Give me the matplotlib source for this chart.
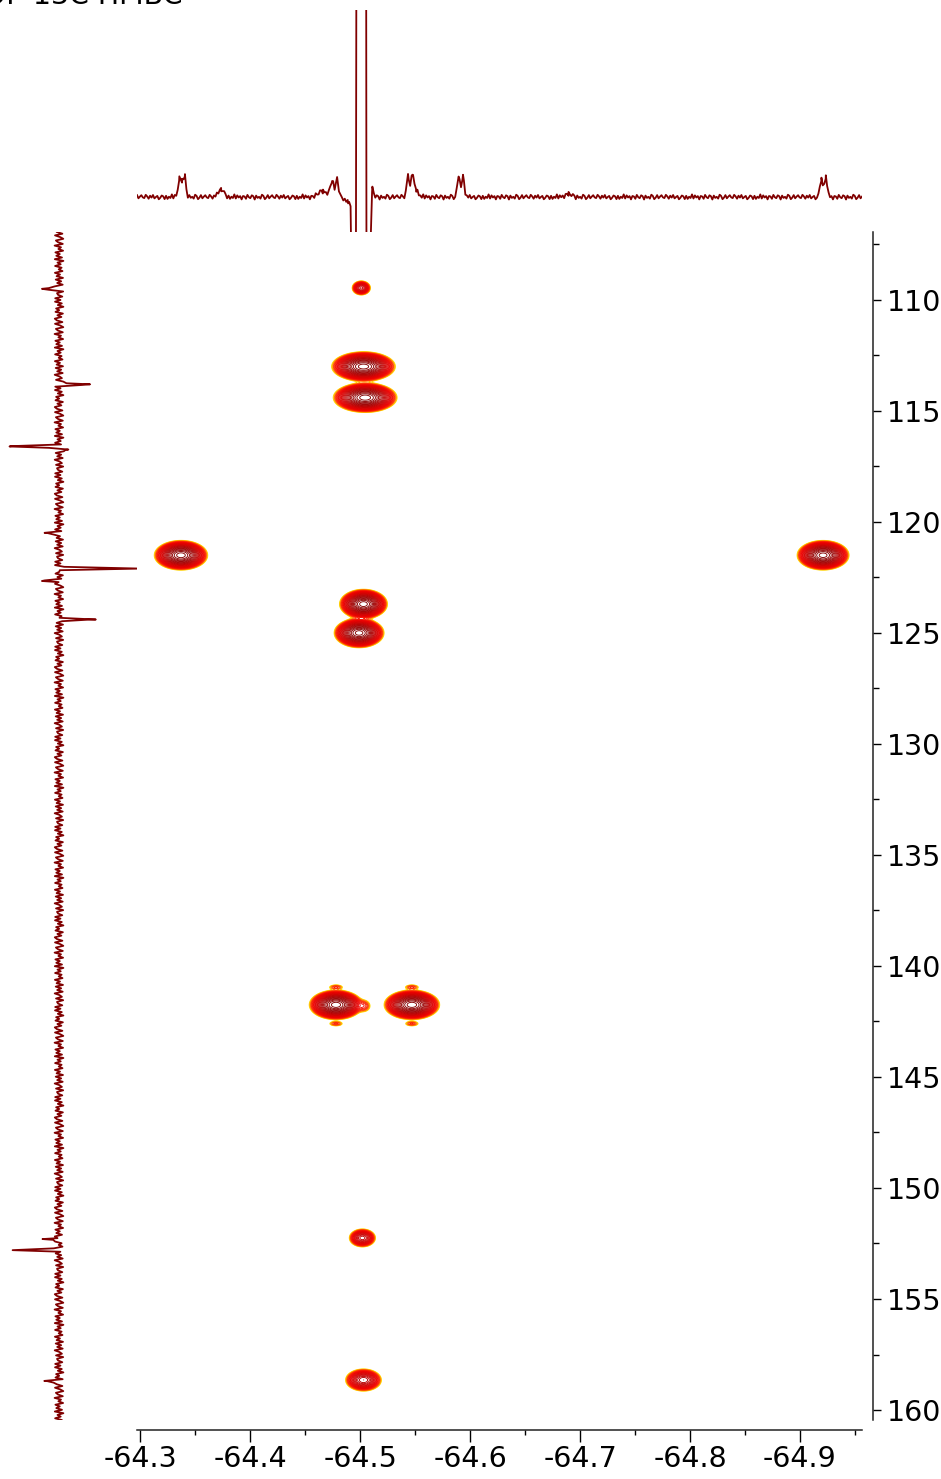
import numpy as np
import matplotlib
matplotlib.use("Agg")
import matplotlib.pyplot as plt
from matplotlib import font_manager
from matplotlib.colors import LinearSegmentedColormap, LogNorm
from matplotlib.ticker import MultipleLocator

# cross peaks: F2 (19F) / F1 (13C) shift in ppm, intensity, gaussian widths in ppm
peak_f2 = [-64.501, -64.503, -64.5045, -64.337, -64.921, -64.503, -64.499,
           -64.478, -64.547, -64.502, -64.503,
           -64.478, -64.478, -64.547, -64.547, -64.5035]
peak_f1 = [109.46, 113.0, 114.4, 121.5, 121.5, 123.7, 125.0,
           141.75, 141.75, 152.25, 158.65,
           140.95, 142.6, 140.95, 142.6, 141.8]
peak_int = [20, 130, 132, 130, 128, 130, 128,
            132, 132, 25, 32,
            2.6, 2.6, 2.6, 2.6, 3.0]
peak_w2 = [0.0034, 0.0093, 0.0093, 0.0078, 0.0076, 0.0070, 0.0073,
           0.0078, 0.0081, 0.0047, 0.0062,
           0.0040, 0.0040, 0.0040, 0.0040, 0.0036]
peak_w1 = [0.13, 0.215, 0.215, 0.215, 0.215, 0.215, 0.215,
           0.215, 0.215, 0.16, 0.19,
           0.07, 0.07, 0.07, 0.07, 0.16]

# 19F projection lines (ppm, height, width)
f2_lines = [-64.3355, -64.338, -64.3405, -64.3735, -64.466, -64.4745, -64.479,
            -64.489, -64.495, -64.501, -64.5068, -64.5108,
            -64.5435, -64.5475, -64.551, -64.5895, -64.5935, -64.6895,
            -64.9195, -64.9235]
f2_heights = [10, 16, 12, 8, 6, 16, 18,
              -5, -900, 5000, -900, 10,
              21, 23, 7, 20, 20, 3,
              18, 19]
f2_widths = [0.0008, 0.0025, 0.0008, 0.0025, 0.004, 0.0015, 0.0012,
             0.003, 0.0012, 0.0022, 0.0012, 0.0012,
             0.0012, 0.0012, 0.002, 0.0012, 0.0012, 0.003,
             0.0013, 0.0013]

# 13C projection lines (ppm, height, width)
f1_lines = [109.5, 113.8, 116.6, 116.75, 120.5, 122.1, 122.66, 124.4,
            152.3, 152.8, 158.7]
f1_heights = [20, -32, 53, -9, 15, -77, 15, -34, 15, 44, 14]
f1_widths = [0.03, 0.03, 0.03, 0.03, 0.03, 0.03, 0.03, 0.03, 0.03, 0.03, 0.03]

# baseline ripple of the two traces
f2_ripple = [0.4, -1.3, 1.9, -0.6, -2.2, 1.1, 2.3, -1.6, 0.2, -0.9, 1.4, -2.5,
             0.8, 1.7, -1.2, -0.2, 2.1, -1.8, 0.5, 1.0, -2.4, 0.9, -0.5, 1.6,
             -1.5, 2.6, -1.0, 0.3, -1.9, 1.2, -2.1, 0.7, 1.5, -0.8, -2.3, 1.1,
             0.0, -1.4, 2.0, -0.6, 1.3, -1.7, 0.6, 2.2, -1.1, -0.4, 1.8]
f1_ripple = [2.1, -3.4, 4.0, -1.2, -4.3, 3.1, 1.0, -3.8, 4.4, -2.0, 0.6, -4.1,
             3.6, -0.8, 2.7, -3.0, 4.2, -4.4, 1.5, -1.7, 3.9, -2.6, 0.3, -3.5,
             4.1, -1.0, 2.4, -4.0, 3.3, -2.2, 1.8, -3.7, 4.3, -0.5, -2.9, 3.0,
             -4.2, 2.0, 0.9, -3.3, 3.8, -1.5, 4.0, -2.8, 1.2, -4.4, 2.9, -0.2,
             3.5, -3.9, 1.6, -2.4, 4.2]

f2_ticks = [-64.3, -64.4, -64.5, -64.6, -64.7, -64.8, -64.9]
f1_ticks = [110, 115, 120, 125, 130, 135, 140, 145, 150, 155, 160]
f2_range = (-64.297, -64.9564)
f1_range = (160.45, 106.94)

plt.rcParams["axes.unicode_minus"] = False
try:
    font_manager.findfont("Liberation Sans Narrow", fallback_to_default=False)
    label_font, label_size = "Liberation Sans Narrow", 26
except ValueError:
    label_font, label_size = "DejaVu Sans", 20.5
plt.rcParams["font.family"] = [label_font, "DejaVu Sans"]

W, H = 941, 1479
fig = plt.figure(figsize=(W / 100, H / 100), dpi=100)


def box(x0, y0, x1, y1):
    return [x0 / W, 1 - y1 / H, (x1 - x0) / W, (y1 - y0) / H]


def gauss(x, c, h, w):
    return h * np.exp(-0.5 * ((x - c) / w) ** 2)


ax = fig.add_axes(box(137, 232, 862, 1420))
ax_top = fig.add_axes(box(137, 10, 862, 232))
ax_left = fig.add_axes(box(0, 232, 137, 1420))

# 2D contour map
gx = np.linspace(-64.96, -64.29, 900)
gy = np.linspace(106.9, 160.5, 2600)
Z = np.zeros((gy.size, gx.size))
for c2, c1, a, w2, w1 in zip(peak_f2, peak_f1, peak_int, peak_w2, peak_w1):
    Z += np.outer(gauss(gy, c1, 1.0, w1), gauss(gx, c2, a, w2))

levels = 1.2 ** np.arange(0, 27)
cmap = LinearSegmentedColormap.from_list(
    "hmbc", [(0.0, "#ffe000"), (0.06, "#ffa000"), (0.14, "#ff3000"),
             (0.3, "#f00000"), (0.55, "#d00000"), (0.8, "#a00000"),
             (1.0, "#800000")])
ax.contour(gx, gy, Z, levels=levels, cmap=cmap,
           norm=LogNorm(vmin=1, vmax=120), linewidths=0.65)

ax.set_xlim(*f2_range)
ax.set_ylim(*f1_range)
for s in ("top", "left"):
    ax.spines[s].set_visible(False)
ax.spines["bottom"].set_position(("outward", 7.2))
ax.spines["right"].set_position(("outward", 7.9))
for s in ("bottom", "right"):
    ax.spines[s].set_linewidth(1.1)
    ax.spines[s].set_color("#222222")
ax.yaxis.tick_right()
ax.set_xticks(f2_ticks)
ax.set_yticks(f1_ticks)
ax.xaxis.set_minor_locator(MultipleLocator(0.05))
ax.yaxis.set_minor_locator(MultipleLocator(2.5))
ax.tick_params(axis="x", which="major", length=8.6, width=1.0, pad=2,
               labelsize=label_size)
ax.tick_params(axis="x", which="minor", length=3.6, width=1.0)
ax.tick_params(axis="y", which="major", length=5.8, width=1.0, pad=4,
               labelsize=label_size)
ax.tick_params(axis="y", which="minor", length=4.3, width=1.0)

# top trace (19F)
x2 = np.union1d(np.linspace(f2_range[1], f2_range[0], 500), f2_lines)
y2 = np.resize(np.array(f2_ripple), x2.size)
for c, h, w in zip(f2_lines, f2_heights, f2_widths):
    y2 = y2 + gauss(x2, c, h, w)
ax_top.plot(x2, y2, color="#800000", lw=1.3)
ax_top.set_xlim(*f2_range)
ax_top.set_ylim(-35, 187)
ax_top.axis("off")

# left trace (13C)
y1 = np.union1d(np.linspace(f1_range[1], f1_range[0], 700), f1_lines)
v1 = np.resize(np.array(f1_ripple), y1.size)
for c, h, w in zip(f1_lines, f1_heights, f1_widths):
    v1 = v1 + gauss(y1, c, h, w)
ax_left.plot(v1, y1, color="#800000", lw=1.3)
ax_left.set_xlim(59, -78)
ax_left.set_ylim(*f1_range)
ax_left.axis("off")

fig.text(183 / W, 1 - 4 / H, "19F-13C HMBC", ha="right", va="baseline",
         fontsize=label_size)

fig.savefig("out.png", dpi=100)
